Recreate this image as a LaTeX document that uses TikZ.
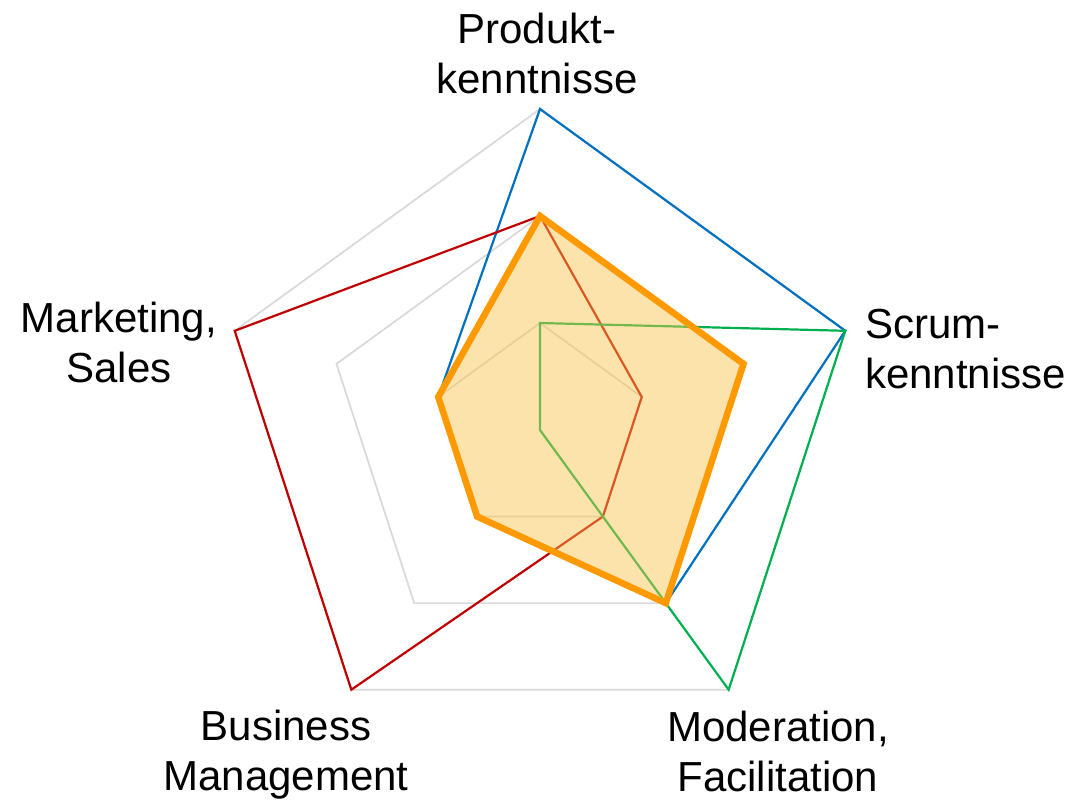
\documentclass[tikz,border=0pt]{standalone}
\usepackage{fontspec}
\setmainfont{Liberation Sans}
\definecolor{gridgray}{HTML}{D9D9D9}
\definecolor{sblue}{HTML}{0070C0}
\definecolor{sred}{HTML}{C00000}
\definecolor{sgreen}{HTML}{00B050}
\definecolor{sorange}{HTML}{FF9900}
\definecolor{sfill}{HTML}{FAC44B}
\tikzset{
  gridline/.style={draw=gridgray,line width=1.7pt,line join=miter},
  series/.style={draw=#1,line width=2.2pt,line join=miter},
  mainseries/.style={draw=sorange,fill=sfill,fill opacity=0.46,draw opacity=1,line width=6.5pt,line join=miter},
  axislabel/.style={font=\fontsize{42}{50}\selectfont,inner sep=0pt,align=center}
}
\begin{document}
\begin{tikzpicture}[x=1pt,y=1pt]
\useasboundingbox (0,0) rectangle (1071,-802);
\fill[white] (0,0) rectangle (1071,-802);
\begin{scope}[shift={(540,-430)}]
  % axis directions: P 90, S 18, M -54, B -126, Ma 162 ; radius per level
  \def\u{107}
  \foreach \k in {1,2,3}{
    \draw[gridline] (90:\k*\u) -- (18:\k*\u) -- (-54:\k*\u) -- (-126:\k*\u) -- (162:\k*\u) -- cycle;
  }
  \coordinate (P) at (90:3*\u);
  \coordinate (S) at (18:3*\u);
  \coordinate (M) at (-54:3*\u);
  \coordinate (B) at (-126:3*\u);
  \coordinate (Ma) at (162:3*\u);
  % blue: 3,3,2,1,1
  \draw[series=sblue] (90:3*\u) -- (18:3*\u) -- (-54:2*\u) -- (-126:1*\u) -- (162:1*\u) -- cycle;
  % red: 2,1,1,3,3
  \draw[series=sred] (90:2*\u) -- (18:1*\u) -- (-54:1*\u) -- (-126:3*\u) -- (162:3*\u) -- cycle;
  % green: 1,3,3,0,0
  \draw[series=sgreen] (90:1*\u) -- (18:3*\u) -- (-54:3*\u) -- (0,0) -- cycle;
  % orange: 2,2,2,1,1
  \draw[mainseries] (90:2*\u) -- (18:2*\u) -- (-54:2*\u) -- (-126:1*\u) -- (162:1*\u) -- cycle;
\end{scope}
\node[axislabel,anchor=north] (lP) at (537,-13) {Produkt-\\kenntnisse};
\node[axislabel,anchor=north west,align=left] (lS) at (865,-309) {Scrum-\\kenntnisse};
\node[axislabel,anchor=north] (lM) at (778,-711) {Moderation,\\Facilitation};
\node[axislabel,anchor=north] (lB) at (286,-710) {Business\\Management};
\node[axislabel,anchor=north] (lMa) at (119,-302) {Marketing,\\Sales};
\end{tikzpicture}
\end{document}
